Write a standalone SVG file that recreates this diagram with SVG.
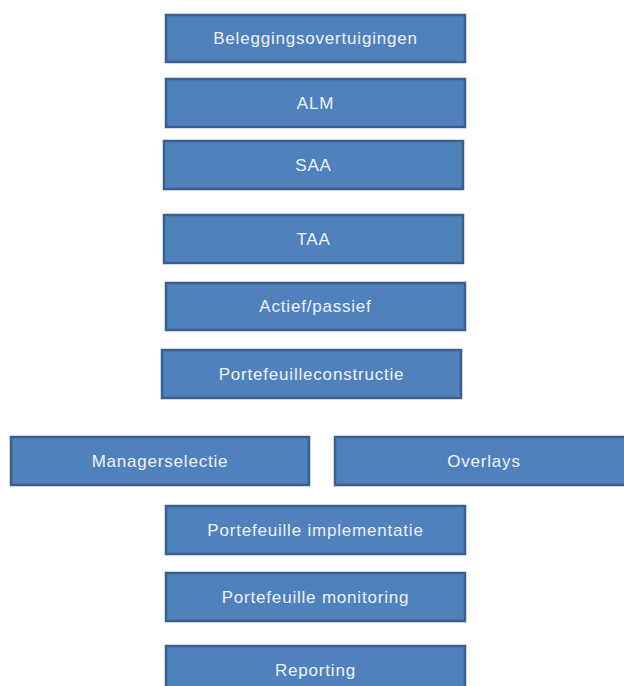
<svg xmlns="http://www.w3.org/2000/svg" width="624" height="686" viewBox="0 0 624 686">
<style>
.b rect{fill:#4F81BD;stroke:#3A5F8C;stroke-width:2.5}
.b text{fill:#EEF2F8;font-family:"Liberation Sans",Arial,sans-serif;font-size:17px;letter-spacing:0.8px;text-anchor:middle;dominant-baseline:central}
</style>
<rect width="624" height="686" fill="#fff"/>
<g id="n1" class="b"><rect x="166" y="15" width="299" height="47"/><text x="315.5" y="38.5">Beleggingsovertuigingen</text></g>
<g id="n2" class="b"><rect x="166" y="79" width="299" height="48"/><text x="315.5" y="103">ALM</text></g>
<g id="n3" class="b"><rect x="164" y="141" width="299" height="48"/><text x="313.5" y="165">SAA</text></g>
<g id="n4" class="b"><rect x="164" y="215" width="299" height="48"/><text x="313.5" y="239">TAA</text></g>
<g id="n5" class="b"><rect x="166" y="283" width="299" height="47"/><text x="315.5" y="306.5">Actief/passief</text></g>
<g id="n6" class="b"><rect x="162" y="350" width="299" height="48"/><text x="311.5" y="374">Portefeuilleconstructie</text></g>
<g id="n7" class="b"><rect x="11" y="437" width="298" height="48"/><text x="160" y="461">Managerselectie</text></g>
<g id="n8" class="b"><rect x="335" y="437" width="300" height="48"/><text x="484" y="461">Overlays</text></g>
<g id="n9" class="b"><rect x="166" y="506" width="299" height="48"/><text x="315.5" y="530">Portefeuille implementatie</text></g>
<g id="n10" class="b"><rect x="166" y="573" width="299" height="48"/><text x="315.5" y="597">Portefeuille monitoring</text></g>
<g id="n11" class="b"><rect x="166" y="646" width="299" height="48"/><text x="315.5" y="670">Reporting</text></g>
<g id="connectors"></g>
</svg>
